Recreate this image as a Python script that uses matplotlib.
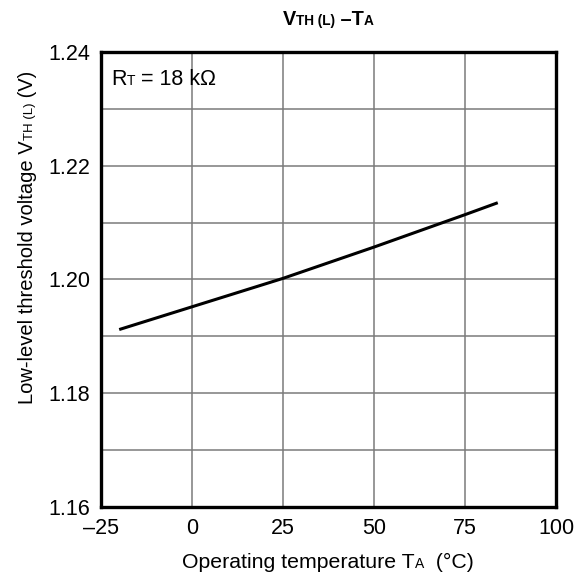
import numpy as np
import matplotlib
matplotlib.use("Agg")
import matplotlib.pyplot as plt
from matplotlib.transforms import IdentityTransform

plt.rcParams['font.family'] = ['Liberation Sans', 'DejaVu Sans']

# Werte
temp = [-20, 0, 25, 50, 75, 84]
vth = [1.1912, 1.1952, 1.2002, 1.2057, 1.2114, 1.2135]

xticks = [-25, 0, 25, 50, 75, 100]
xtick_labels = ['–25', '0', '25', '50', '75', '100']
yticks = [1.16, 1.18, 1.20, 1.22, 1.24]
ytick_labels = ['1.16', '1.18', '1.20', '1.22', '1.24']
yminor = [1.17, 1.19, 1.21, 1.23]

W, H = 580, 579
fig = plt.figure(figsize=(W / 100, H / 100), dpi=100)
ax = fig.add_axes([101 / W, 1 - 507 / H, 455 / W, 455 / H])

ax.plot(temp, vth, color='black', lw=2.2, solid_capstyle='butt')

ax.set_xlim(-25, 100)
ax.set_ylim(1.16, 1.24)
ax.set_xticks(xticks)
ax.set_xticklabels(xtick_labels)
ax.set_yticks(yticks)
ax.set_yticklabels(ytick_labels)
ax.set_yticks(yminor, minor=True)
ax.tick_params(which='both', length=0, labelsize=15.5, pad=8)
ax.grid(True, which='both', color='#7a7a7a', lw=1.1)
ax.set_axisbelow(True)
for s in ax.spines.values():
    s.set_linewidth(2.4)


def rich(x, y, parts, rot=0, ha='center'):
    # Text aus Stücken mit unterschiedlicher Größe, in Pixelkoordinaten
    r = fig.canvas.get_renderer()
    arts = []
    for s, size, w in parts:
        arts.append(fig.text(0, 0, s, fontsize=size, fontweight=w, rotation=rot,
                             rotation_mode='anchor', ha='left', va='baseline',
                             transform=IdentityTransform()))
    lens = []
    for t in arts:
        bb = t.get_window_extent(r)
        lens.append(bb.height if rot else bb.width)
    pos = -sum(lens) / 2 if ha == 'center' else 0
    for t, l in zip(arts, lens):
        if rot:
            t.set_position((x, y + pos))
        else:
            t.set_position((x + pos, y))
        pos += l


rich(328, H - 25, [('V', 14.3, 'bold'), ('TH (L)', 9.8, 'bold'),
                   (' –T', 14.3, 'bold'), ('A', 9.8, 'bold')])
rich(33, H - 237, [('Low-level threshold voltage V', 14.5, 'normal'),
                   ('TH (L)', 9.5, 'normal'), (' (V)', 14.5, 'normal')], rot=90)
rich(328, H - 568, [('Operating temperature T', 15.3, 'normal'),
                    ('A', 10, 'normal'), ('  (°C)', 15.3, 'normal')])
rich(111, H - 85, [('R', 15.5, 'normal'), ('T', 10, 'normal'),
                   (' = 18 kΩ', 15.5, 'normal')], ha='left')

fig.savefig('out.png', dpi=100)
